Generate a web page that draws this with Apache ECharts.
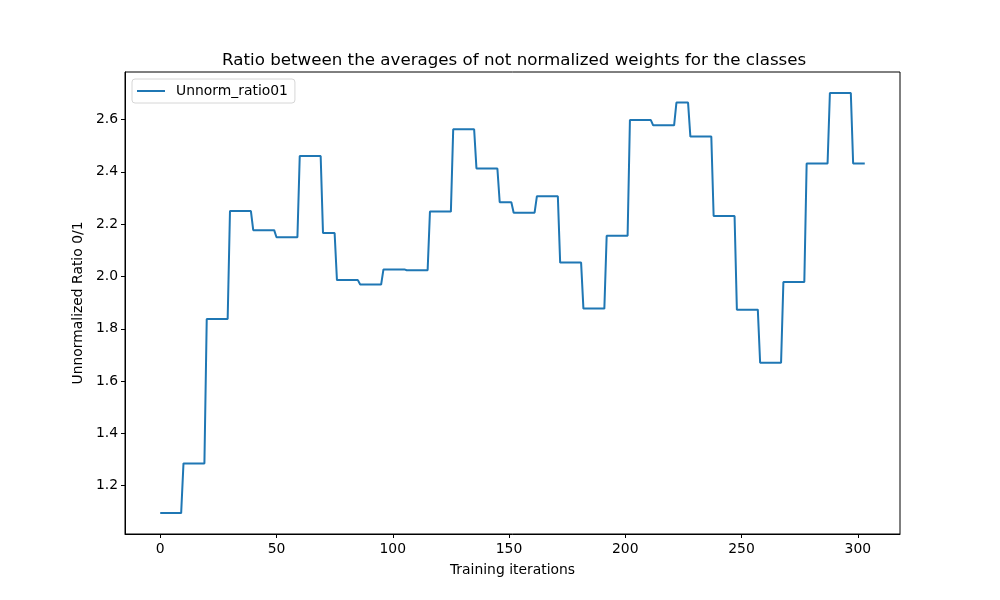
<!DOCTYPE html>
<html>
<head>
    <meta charset="utf-8">
    <title>Unnorm ratio</title>
    <script src="https://cdn.jsdelivr.net/npm/echarts@6/dist/echarts.min.js"></script>
    <style>
        html, body { margin: 0; padding: 0; background: #fff; }
        #chart1 { width: 1000px; height: 600px; }
    </style>
</head>
<body>
<div id="chart1"></div>
<script type="text/javascript">
    // each step: first iteration, last iteration
    var stepStart = [0, 10, 20, 30, 40, 50, 60, 70, 76, 86, 96, 106, 116, 126, 136, 146,
                     152, 162, 172, 182, 192, 202, 212, 222, 228, 238, 248, 258, 268, 278, 288, 298];
    var stepEnd   = [9, 19, 29, 39, 49, 59, 69, 75, 85, 95, 105, 115, 125, 135, 145, 151,
                     161, 171, 181, 191, 201, 211, 221, 227, 237, 247, 257, 267, 277, 287, 297, 303];
    var stepLevel = [1.095, 1.285, 1.837, 2.250, 2.177, 2.150, 2.461, 2.166, 1.986, 1.969, 2.027, 2.024,
                     2.248, 2.563, 2.413, 2.284, 2.244, 2.307, 2.053, 1.877, 2.156, 2.598, 2.578, 2.665,
                     2.535, 2.231, 1.873, 1.670, 1.979, 2.432, 2.702, 2.432];
    var xTicks = [0, 50, 100, 150, 200, 250, 300];
    var yTicks = [1.2, 1.4, 1.6, 1.8, 2.0, 2.2, 2.4, 2.6];

    var points = [];
    for (var i = 0; i < stepStart.length; i++) {
        points.push([stepStart[i], stepLevel[i]]);
        if (stepEnd[i] !== stepStart[i]) points.push([stepEnd[i], stepLevel[i]]);
    }

    var font = 'DejaVu Sans';
    var myChart = echarts.init(document.getElementById('chart1'), null, {renderer: 'canvas'});
    var option = {
        backgroundColor: '#fff',
        animation: false,
        title: {
            text: 'Ratio between the averages of not normalized weights for the classes',
            left: 217,
            top: 47,
            textStyle: {fontFamily: font, fontSize: 16.7, fontWeight: 'normal', color: '#000'}
        },
        legend: {
            left: 132,
            top: 79,
            padding: [5, 7, 5, 5],
            backgroundColor: '#fff',
            borderColor: '#d6d6d6',
            borderWidth: 1,
            borderRadius: 3,
            itemWidth: 28,
            itemHeight: 14,
            data: [{name: 'Unnorm_ratio01', icon: 'path://M0,6 L28,6 L28,8 L0,8 Z'}],
            textStyle: {fontFamily: font, fontSize: 13.9, color: '#000', padding: [0, 0, 0, 6]}
        },
        grid: {
            left: 125, right: 100, top: 72, bottom: 66,
            show: true, borderColor: '#000', borderWidth: 1, backgroundColor: '#fff'
        },
        xAxis: {
            type: 'value',
            min: -15.15,
            max: 318.15,
            name: 'Training iterations',
            nameLocation: 'middle',
            nameGap: 29,
            nameTextStyle: {fontFamily: font, fontSize: 13.9, color: '#000'},
            splitLine: {show: false},
            axisLine: {show: true, onZero: false, lineStyle: {color: '#000', width: 1}},
            axisTick: {show: true, length: 4, customValues: xTicks, lineStyle: {color: '#000'}},
            axisLabel: {customValues: xTicks, margin: 8, fontFamily: font, fontSize: 13.9, color: '#000'}
        },
        yAxis: {
            type: 'value',
            min: 1.015,
            max: 2.782,
            name: 'Unnormalized Ratio 0/1',
            nameLocation: 'middle',
            nameGap: 38,
            nameTextStyle: {fontFamily: font, fontSize: 13.9, color: '#000'},
            splitLine: {show: false},
            axisLine: {show: true, onZero: false, lineStyle: {color: '#000', width: 1}},
            axisTick: {show: true, length: 4, customValues: yTicks, lineStyle: {color: '#000'}},
            axisLabel: {
                customValues: yTicks, margin: 7, fontFamily: font, fontSize: 13.9, color: '#000',
                formatter: function (v) { return v.toFixed(1); }
            }
        },
        series: [{
            name: 'Unnorm_ratio01',
            type: 'line',
            data: points,
            showSymbol: false,
            color: '#1f77b4',
            lineStyle: {width: 2, color: '#1f77b4'}
        }]
    };
    myChart.setOption(option);
</script>
</body>
</html>
